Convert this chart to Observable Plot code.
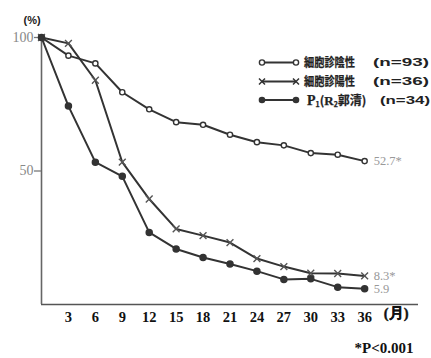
<!DOCTYPE html>
<html>
<head>
<meta charset="utf-8">
<script src="https://cdn.jsdelivr.net/npm/d3@7"></script>
<script src="https://cdn.jsdelivr.net/npm/@observablehq/plot@0.6"></script>
<style>
  html, body { margin: 0; padding: 0; background: #fff; }
  #wrap { position: relative; width: 431px; height: 358px; }
  #legend { position: absolute; left: 0; top: 0; pointer-events: none; }
</style>
</head>
<body>
<div id="wrap"></div>
<script>
// ---- data ----
const months = [0, 3, 6, 9, 12, 15, 18, 21, 24, 27, 30, 33, 36];
const cytoNegative = [100, 93.2, 90.3, 79.5, 73.1, 68.3, 67.3, 63.6, 60.8, 59.6, 56.7, 56.1, 53.7];
const cytoPositive = [100, 97.8, 84.0, 53.3, 39.5, 28.3, 25.8, 23.2, 17.2, 14.2, 11.7, 11.6, 10.7];
const p1Group = [100, 74.3, 53.3, 48.0, 27.0, 20.8, 17.6, 15.2, 12.5, 9.4, 9.6, 6.5, 5.9];
const xTicks = [3, 6, 9, 12, 15, 18, 21, 24, 27, 30, 33, 36];
const yTicks = [50, 100];
const seriesNames = ["細胞診陰性", "細胞診陽性", "P1(R2郭清)"];
const seriesN = ["(n=93)", "(n=36)", "(n=34)"];
const endLabels = ["52.7*", "8.3*", "5.9"];
const yUnit = "(%)";
const xUnit = "(月)";
const footnote = "*P<0.001";

const series = [cytoNegative, cytoPositive, p1Group];
const rows = [];
series.forEach((vals, s) => vals.forEach((v, i) => rows.push({s, month: months[i], value: v})));
const ends = series.map((vals, s) => ({s, month: months[months.length - 1], value: vals[vals.length - 1], label: endLabels[s]}));

const lineColor = "#333";
const serif = "'Liberation Serif', 'DejaVu Serif', serif";

const chart = Plot.plot({
  width: 431,
  height: 358,
  marginLeft: 41,
  marginRight: 13,
  marginTop: 37,
  marginBottom: 54,
  style: {fontFamily: serif, background: "#fff"},
  x: {domain: [0, 42]},
  y: {domain: [0, 100]},
  marks: [
    Plot.ruleY([0], {x1: 0, x2: 42, stroke: "#555", strokeWidth: 1.6}),
    Plot.ruleX([0], {y1: 0, y2: 100, stroke: "#666", strokeWidth: 1.6}),
    Plot.axisY(yTicks, {tickSize: 7, tickPadding: 1, stroke: "#777", fill: "#888", fontSize: 14, strokeWidth: 1.3, label: null}),
    Plot.axisX(xTicks, {tickSize: 0, tickPadding: 7, fill: "#111", fontSize: 14.5, fontWeight: "bold", label: null}),
    Plot.line(rows, {x: "month", y: "value", z: "s", stroke: lineColor, strokeWidth: 2}),
    Plot.dot(rows.filter(d => d.s === 0), {x: "month", y: "value", r: 2.6, fill: "#fff", stroke: lineColor, strokeWidth: 1.4}),
    Plot.dot(rows.filter(d => d.s === 1), {x: "month", y: "value", r: 3.2, symbol: "times", stroke: "#555", strokeWidth: 1.4}),
    Plot.dot(rows.filter(d => d.s === 2), {x: "month", y: "value", r: 3, fill: lineColor, stroke: lineColor}),
    Plot.text(ends, {x: "month", y: "value", text: "label", dx: 9, textAnchor: "start", fill: "#999", fontSize: 12.5}),
    Plot.text([yUnit], {frameAnchor: "top-left", dx: -18, dy: -21, fontSize: 11, fontWeight: "bold", fill: "#222", fontFamily: "'Liberation Sans', sans-serif"}),
    Plot.text([xUnit], {frameAnchor: "bottom-right", dx: -10, dy: 13, textAnchor: "end", fontSize: 14.5, fontWeight: "bold", fill: "#111", stroke: "#111", strokeWidth: 0.4}),
    Plot.text([footnote], {frameAnchor: "bottom-right", dx: -5, dy: 48, textAnchor: "end", fontSize: 15, fontWeight: "bold", fill: "#111"})
  ]
});

const wrap = document.getElementById("wrap");
wrap.appendChild(chart);

// ---- legend overlay ----
const leg = d3.select(wrap).append("svg")
  .attr("id", "legend").attr("width", 431).attr("height", 358);
const cjk = "'Noto Sans CJK JP', sans-serif";
const rowY = [62.5, 81.5, 100];
rowY.forEach((y, s) => {
  const g = leg.append("g");
  g.append("line").attr("x1", 262).attr("x2", 296).attr("y1", y).attr("y2", y)
    .attr("stroke", lineColor).attr("stroke-width", 2);
  [262, 296].forEach(cx => {
    if (s === 0) {
      g.append("circle").attr("cx", cx).attr("cy", y).attr("r", 2.6)
        .attr("fill", "#fff").attr("stroke", lineColor).attr("stroke-width", 1.4);
    } else if (s === 1) {
      g.append("path").attr("d", `M${cx-3},${y-3}L${cx+3},${y+3}M${cx-3},${y+3}L${cx+3},${y-3}`)
        .attr("stroke", lineColor).attr("stroke-width", 1.5);
    } else {
      g.append("circle").attr("cx", cx).attr("cy", y).attr("r", 3.3).attr("fill", lineColor);
    }
  });
  if (s < 2) {
    g.append("text").attr("x", 304).attr("y", y).attr("dy", "0.38em")
      .attr("font-family", cjk).attr("font-weight", "bold").attr("font-size", 12)
      .attr("textLength", 51).attr("lengthAdjust", "spacingAndGlyphs")
      .attr("fill", "#222").attr("stroke", "#222").attr("stroke-width", 0.25).text(seriesNames[s]);
  } else {
    const t = g.append("text").attr("x", 307).attr("y", y).attr("dy", "0.38em")
      .attr("font-family", cjk).attr("font-weight", "bold").attr("font-size", 12)
      .attr("fill", "#222").attr("stroke", "#222").attr("stroke-width", 0.25);
    const nm = seriesNames[s]; // "P1(R2郭清)"
    t.append("tspan").attr("font-family", serif).attr("font-size", 14).text(nm[0]);
    t.append("tspan").attr("font-size", 7).attr("dy", 2).text(nm[1]);
    t.append("tspan").attr("dy", -2).text(nm[2]);
    t.append("tspan").attr("font-family", serif).attr("font-size", 13).text(nm[3]);
    t.append("tspan").attr("font-size", 7).attr("dy", 2).text(nm[4]);
    t.append("tspan").attr("dy", -2).text(nm.slice(5));
  }
  g.append("text").attr("x", s < 2 ? 373 : 380).attr("y", y).attr("dy", "0.36em")
    .attr("font-family", "'Liberation Sans', sans-serif").attr("font-weight", "bold").attr("font-size", 10.5)
    .attr("textLength", s < 2 ? 56 : 50).attr("lengthAdjust", "spacingAndGlyphs")
    .attr("fill", "#222").text(seriesN[s]);
});
</script>
</body>
</html>
